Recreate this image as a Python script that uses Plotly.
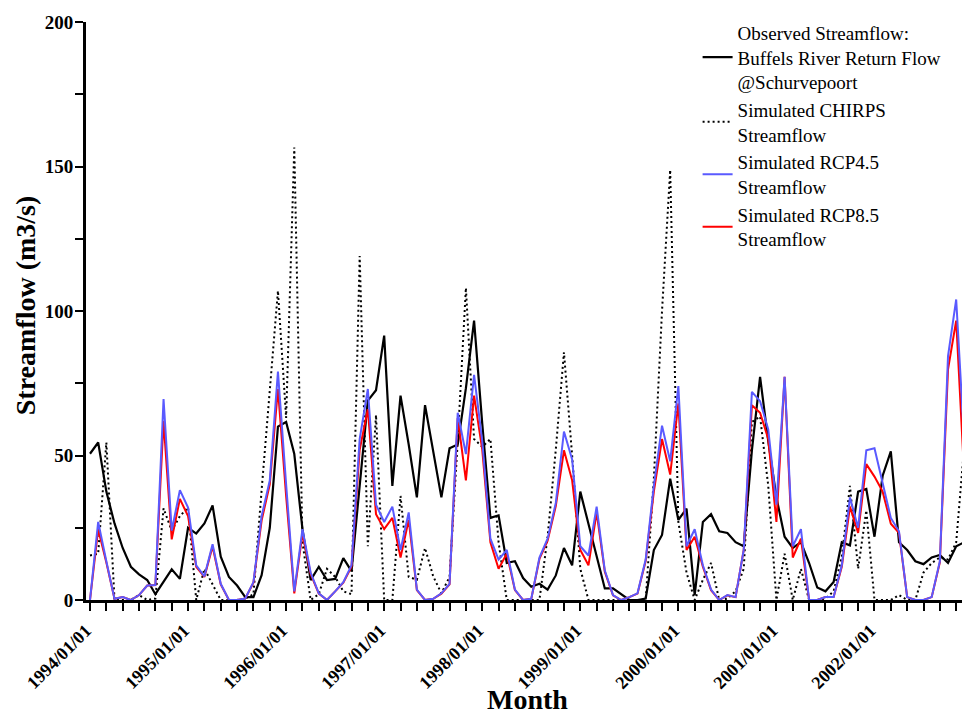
import plotly.graph_objects as go

# Month index 0 = 1994/01 ... 107 = 2002/12
month_labels = ["1994/01/01", "1995/01/01", "1996/01/01", "1997/01/01", "1998/01/01",
                "1999/01/01", "2000/01/01", "2001/01/01", "2002/01/01"]
label_months = [0, 12, 24, 36, 48, 60, 72, 84, 96]
months = list(range(108))

observed = [50.6, 54.5, 37.5, 26.5, 18, 11.5, 8.9, 6.9, 2, 6.3, 10.6, 7.3,
            25, 23, 26.5, 32.7, 15, 8, 5, 1, 1, 8.6, 25, 60,
            61.6, 50.5, 24.5, 6.9, 11.5, 6.9, 7.3, 14.5, 10, 39.5, 69, 72.6,
            91.5, 39.5, 70.7, 53.8, 35.5, 67.4, 51.2, 35.5, 52.5, 53.8, 73.3, 96.7,
            61, 28.4, 29.3, 12.8, 13.4, 7.6, 4.6, 5.6, 3.6, 8.5, 18, 12,
            37.5, 26.4, 14.7, 4, 4, 2, 0, 0, 0.5, 17.3, 22.5, 42,
            27.7, 31.6, 1.7, 27, 29.7, 23.8, 23.2, 20, 18.6, 51.8, 77.2, 55,
            35.5, 21.9, 18, 20, 12.8, 4.3, 3, 6.2, 20, 18.9, 37.5, 38.4,
            21.9, 43, 51.4, 20, 17.3, 13.4, 12.4, 14.7, 15.6, 12.8, 18.6, 20]

chirps = [15.4, 16, 54.5, 0, 0, 0, 1.7, 0, 0.5, 31.7, 24, 29,
          32, 0, 10.8, 5.6, 0, 0, 0, 0.5, 2, 38, 72, 107,
          63, 156.6, 20, 0, 2, 10.8, 8, 3, 2, 119, 18.6, 64,
          0, 0, 36, 8, 7, 18, 8.2, 2.3, 8, 55, 108, 55.7,
          53, 55.7, 20, 0, 0, 0, 0, 0, 22, 52, 85.7, 50,
          10.8, 0, 0, 0, 0, 0, 0, 0, 0, 42, 100, 148.8,
          27, 9.5, 0, 7, 12.8, 0, 0.5, 3, 10.8, 61.6, 63.5, 39.5,
          0, 16, 0, 10.8, 0, 0, 0.5, 3, 15, 39.5, 10.8, 31,
          0, 0, 0, 1.7, 0, 0, 9.5, 12.8, 14.7, 14, 20, 53.8]

rcp45 = [0, 27, 13.4, 0.4, 1, 0, 1.7, 5, 5.2, 69.5, 24, 38,
         32, 12, 8.2, 19.3, 5.6, 0, 0, 0.5, 6.2, 29, 41.4, 79,
         40, 3, 24.5, 9.5, 2.3, 0, 3, 6.2, 12, 55.7, 73, 33,
         27, 32.3, 17.3, 30.3, 3.6, 0, 0.4, 2.3, 5.6, 64.8, 50.5, 77.9,
         55, 21.2, 14, 17.3, 3.6, 0, 0.4, 14.7, 21.2, 33.6, 58.3, 48.6,
         18.6, 15.4, 32.3, 10.2, 1.7, 0, 1, 2.3, 14, 39.5, 60.3, 48,
         74, 18.6, 24.5, 12, 3.6, 0, 1.7, 1, 17.3, 72, 68.8, 59,
         33, 77.2, 18.6, 24.5, 0, 0, 1, 1, 12, 35.5, 25, 51.8,
         52.5, 40, 28.4, 23.8, 1, 0, 0, 1, 13.4, 84.4, 104, 53.8]

rcp85 = [0, 24.5, 13, 0.4, 1, 0, 1.7, 5, 5.2, 62, 21, 35,
         29, 11.5, 8, 18.5, 5.4, 0, 0, 0.5, 6, 27.5, 40, 73,
         36, 2.3, 23, 9, 2.2, 0, 3, 6, 11.5, 52, 66, 29.7,
         24.5, 28.4, 14.7, 27.7, 3.4, 0, 0.4, 2.2, 5.4, 63, 41.4, 70.7,
         52, 20, 10.8, 16, 3.4, 0, 0.4, 14.2, 20.5, 32.5, 51.8, 41.4,
         17.3, 12, 30.3, 9.8, 1.6, 0, 1, 2.2, 13.5, 37.5, 55.7, 43.4,
         68, 17.3, 21.9, 11.5, 3.4, 0, 1.6, 1, 17.3, 67.4, 64.8, 55.7,
         27, 77.2, 14.7, 21.2, 0, 0, 1, 1, 11.5, 32.3, 23.2, 47,
         42.7, 37.5, 26.4, 23.2, 1, 0, 0, 1, 13, 79.8, 96.7, 42]

FONT = "Liberation Serif"

fig = go.Figure()
fig.add_trace(go.Scatter(x=months, y=chirps, mode="lines", legendrank=2,
                         name="Simulated CHIRPS<br>Streamflow",
                         line=dict(color="black", width=2, dash="2px,3px")))
fig.add_trace(go.Scatter(x=months, y=observed, mode="lines", legendrank=1,
                         name="Observed Streamflow:<br>Buffels River Return Flow<br>@Schurvepoort",
                         line=dict(color="black", width=2.2)))
fig.add_trace(go.Scatter(x=months, y=rcp85, mode="lines", legendrank=4,
                         name="Simulated RCP8.5<br>Streamflow",
                         line=dict(color="#ff0000", width=2)))
fig.add_trace(go.Scatter(x=months, y=rcp45, mode="lines", legendrank=3,
                         name="Simulated RCP4.5<br>Streamflow",
                         line=dict(color="#5a5aff", width=2)))

# The page body adds an 8px offset; size the figure so the plot area lands
# at x 86..966, y 22..600 in the 970x716 window.
fig.update_layout(
    width=962, height=708,
    margin=dict(l=78, r=4, t=14, b=116),
    paper_bgcolor="white", plot_bgcolor="white",
    font=dict(family=FONT, color="black"),
    legend=dict(x=0.695, y=1.0146, xanchor="left", yanchor="top",
                font=dict(family=FONT, size=19, color="black"),
                bgcolor="rgba(0,0,0,0)", itemwidth=30),
    xaxis=dict(
        range=[-0.49, 107.2], automargin=False,
        tickmode="array", tickvals=label_months, ticktext=month_labels,
        tickangle=-45, ticks="outside", ticklen=8, tickwidth=2, tickcolor="black",
        ticklabelstandoff=2, ticklabelshift=-4,
        tickfont=dict(family=FONT, size=18, color="black", weight="bold"),
        minor=dict(tickmode="linear", tick0=0, dtick=2, ticks="outside",
                   ticklen=8, tickwidth=2, tickcolor="black", showgrid=False),
        showline=True, linecolor="black", linewidth=3,
        showgrid=False, zeroline=False,
    ),
    yaxis=dict(
        range=[0, 200], tickmode="linear", tick0=0, dtick=50, automargin=False,
        ticks="outside", ticklen=8, tickwidth=2, tickcolor="black",
        ticklabelstandoff=-2,
        tickfont=dict(family=FONT, size=19, color="black", weight="bold"),
        minor=dict(tickmode="linear", tick0=0, dtick=25, ticks="outside",
                   ticklen=8, tickwidth=2, tickcolor="black", showgrid=False),
        showline=True, linecolor="black", linewidth=3,
        showgrid=False, zeroline=False,
    ),
    annotations=[
        dict(text="Month", xref="paper", yref="paper", x=0.502, y=-0.1713,
             xanchor="center", yanchor="middle", showarrow=False, borderpad=0,
             font=dict(family=FONT, size=28, color="black", weight="bold")),
        dict(text="Streamflow (m3/s)", xref="paper", yref="paper", x=-0.0693, y=0.51,
             xanchor="center", yanchor="middle", textangle=-90, showarrow=False,
             font=dict(family=FONT, size=28, color="black", weight="bold")),
    ],
)

fig.write_html("out.html")
